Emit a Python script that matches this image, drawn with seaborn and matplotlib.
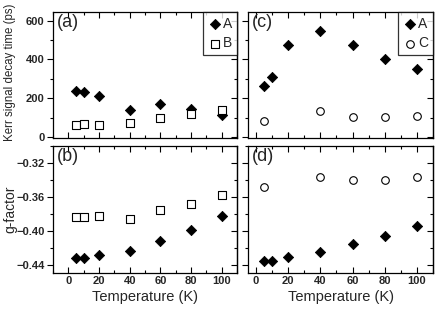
import matplotlib
matplotlib.use("Agg")
import matplotlib.pyplot as plt
import seaborn as sns
import pandas as pd
from matplotlib.ticker import MultipleLocator

sns.set_theme(style="white")
plt.rcParams['font.family'] = ['Liberation Sans', 'DejaVu Sans']

temps = [5, 10, 20, 40, 60, 80, 100]
temps_c = [5, 40, 60, 80, 100]

tau_a_A = [238, 233, 212, 142, 171, 143, 113]
tau_a_B = [64, 67, 62, 74, 98, 121, 138]
tau_c_A = [262, 310, 474, 546, 475, 401, 350]
tau_c_C = [83, 134, 103, 105, 109]

g_b_A = [-0.4318, -0.4318, -0.4290, -0.4240, -0.4126, -0.3988, -0.3830]
g_b_B = [-0.3840, -0.3835, -0.3830, -0.3864, -0.3760, -0.3690, -0.3576]
g_d_A = [-0.4360, -0.4356, -0.4314, -0.4252, -0.4158, -0.4059, -0.3950]
g_d_C = [-0.3482, -0.3370, -0.3400, -0.3406, -0.3370]

fig = plt.figure(figsize=(4.36, 3.12), dpi=100)
W, H = 436, 312
def box(x0, y0, x1, y1):
    return [x0 / W, 1 - y1 / H, (x1 - x0) / W, (y1 - y0) / H]

ax_a = fig.add_axes(box(53, 12, 237, 138))
ax_c = fig.add_axes(box(248, 12, 433, 138))
ax_b = fig.add_axes(box(53, 146, 237, 273))
ax_d = fig.add_axes(box(248, 146, 433, 273))

dia = dict(marker='D', s=27, color='black', edgecolor='black', linewidth=0.6)
sq = dict(marker='s', s=26, facecolor='white', edgecolor='black', linewidth=0.8)
circ = dict(marker='o', s=30, facecolor='white', edgecolor='black', linewidth=0.8)

def scat(ax, x, y, label, style):
    df = pd.DataFrame({'T': x, 'v': y})
    sns.scatterplot(data=df, x='T', y='v', ax=ax, label=label, zorder=3, **style)

scat(ax_a, temps, tau_a_A, 'A', dia)
scat(ax_a, temps, tau_a_B, 'B', sq)
scat(ax_c, temps, tau_c_A, 'A', dia)
scat(ax_c, temps_c, tau_c_C, 'C', circ)
scat(ax_b, temps, g_b_A, None, dia)
scat(ax_b, temps, g_b_B, None, sq)
scat(ax_d, temps, g_d_A, None, dia)
scat(ax_d, temps_c, g_d_C, None, circ)

for ax in (ax_a, ax_b):
    ax.set_xlim(-10, 110)
for ax in (ax_c, ax_d):
    ax.set_xlim(-5, 110)
for ax in (ax_a, ax_c):
    ax.set_ylim(-5, 645)
    ax.yaxis.set_major_locator(MultipleLocator(200))
    ax.yaxis.set_minor_locator(MultipleLocator(100))
for ax in (ax_b, ax_d):
    ax.set_ylim(-0.45, -0.30)
    ax.yaxis.set_major_locator(MultipleLocator(0.04))
    ax.yaxis.set_minor_locator(MultipleLocator(0.02))

for ax in (ax_a, ax_b, ax_c, ax_d):
    ax.xaxis.set_major_locator(MultipleLocator(20))
    ax.xaxis.set_minor_locator(MultipleLocator(10))
    for sp in ax.spines.values():
        sp.set_color('black')
        sp.set_linewidth(0.9)
    ax.tick_params(which='both', top=True, right=True, bottom=True, left=True,
                   color='black', width=0.8)
    ax.tick_params(axis='x', which='both', direction='in')
    ax.tick_params(axis='y', which='both', direction='out', right=False)
    ax.tick_params(which='major', length=4)
    ax.tick_params(which='minor', length=2.5)
    ax.tick_params(labelsize=8, pad=2)
    ax.set_xlabel('')
    ax.set_ylabel('')
    for lab in ax.get_xticklabels() + ax.get_yticklabels():
        lab.set_fontweight('bold')
    sec = ax.secondary_yaxis('right')
    sec.yaxis.set_major_locator(MultipleLocator(200 if ax in (ax_a, ax_c) else 0.04))
    sec.yaxis.set_minor_locator(MultipleLocator(100 if ax in (ax_a, ax_c) else 0.02))
    sec.tick_params(which='both', direction='in', labelright=False, color='black', width=0.8)
    sec.tick_params(which='major', length=4)
    sec.tick_params(which='minor', length=2.5)
    sec.spines['right'].set_linewidth(0.9)

for ax in (ax_a, ax_c):
    ax.tick_params(labelbottom=False)
for ax in (ax_c, ax_d):
    ax.tick_params(labelleft=False)

ax_a.set_ylabel('Kerr signal decay time (ps)', fontsize=8.3)
ax_b.set_ylabel('g-factor', fontsize=10)
ax_a.yaxis.set_label_coords(-0.20, 0.52)
ax_b.yaxis.set_label_coords(-0.195, 0.5)
ax_b.set_xlabel('Temperature (K)', fontsize=10.5, labelpad=3)
ax_d.set_xlabel('Temperature (K)', fontsize=10.5, labelpad=3)

for ax, t in ((ax_a, '(a)'), (ax_b, '(b)'), (ax_c, '(c)'), (ax_d, '(d)')):
    ax.text(0.02, 0.985, t, transform=ax.transAxes, ha='left', va='top', fontsize=13)

for ax in (ax_a, ax_c):
    leg = ax.legend(loc='upper right', frameon=True, fancybox=False, borderaxespad=0,
                    fontsize=10, handletextpad=0.1, borderpad=0.35, labelspacing=0.4,
                    handlelength=1.0, markerscale=1.0)
    leg.get_frame().set_edgecolor('black')
    leg.get_frame().set_linewidth(0.9)
for ax in (ax_b, ax_d):
    if ax.get_legend():
        ax.get_legend().remove()

fig.savefig('out.png', dpi=100)
